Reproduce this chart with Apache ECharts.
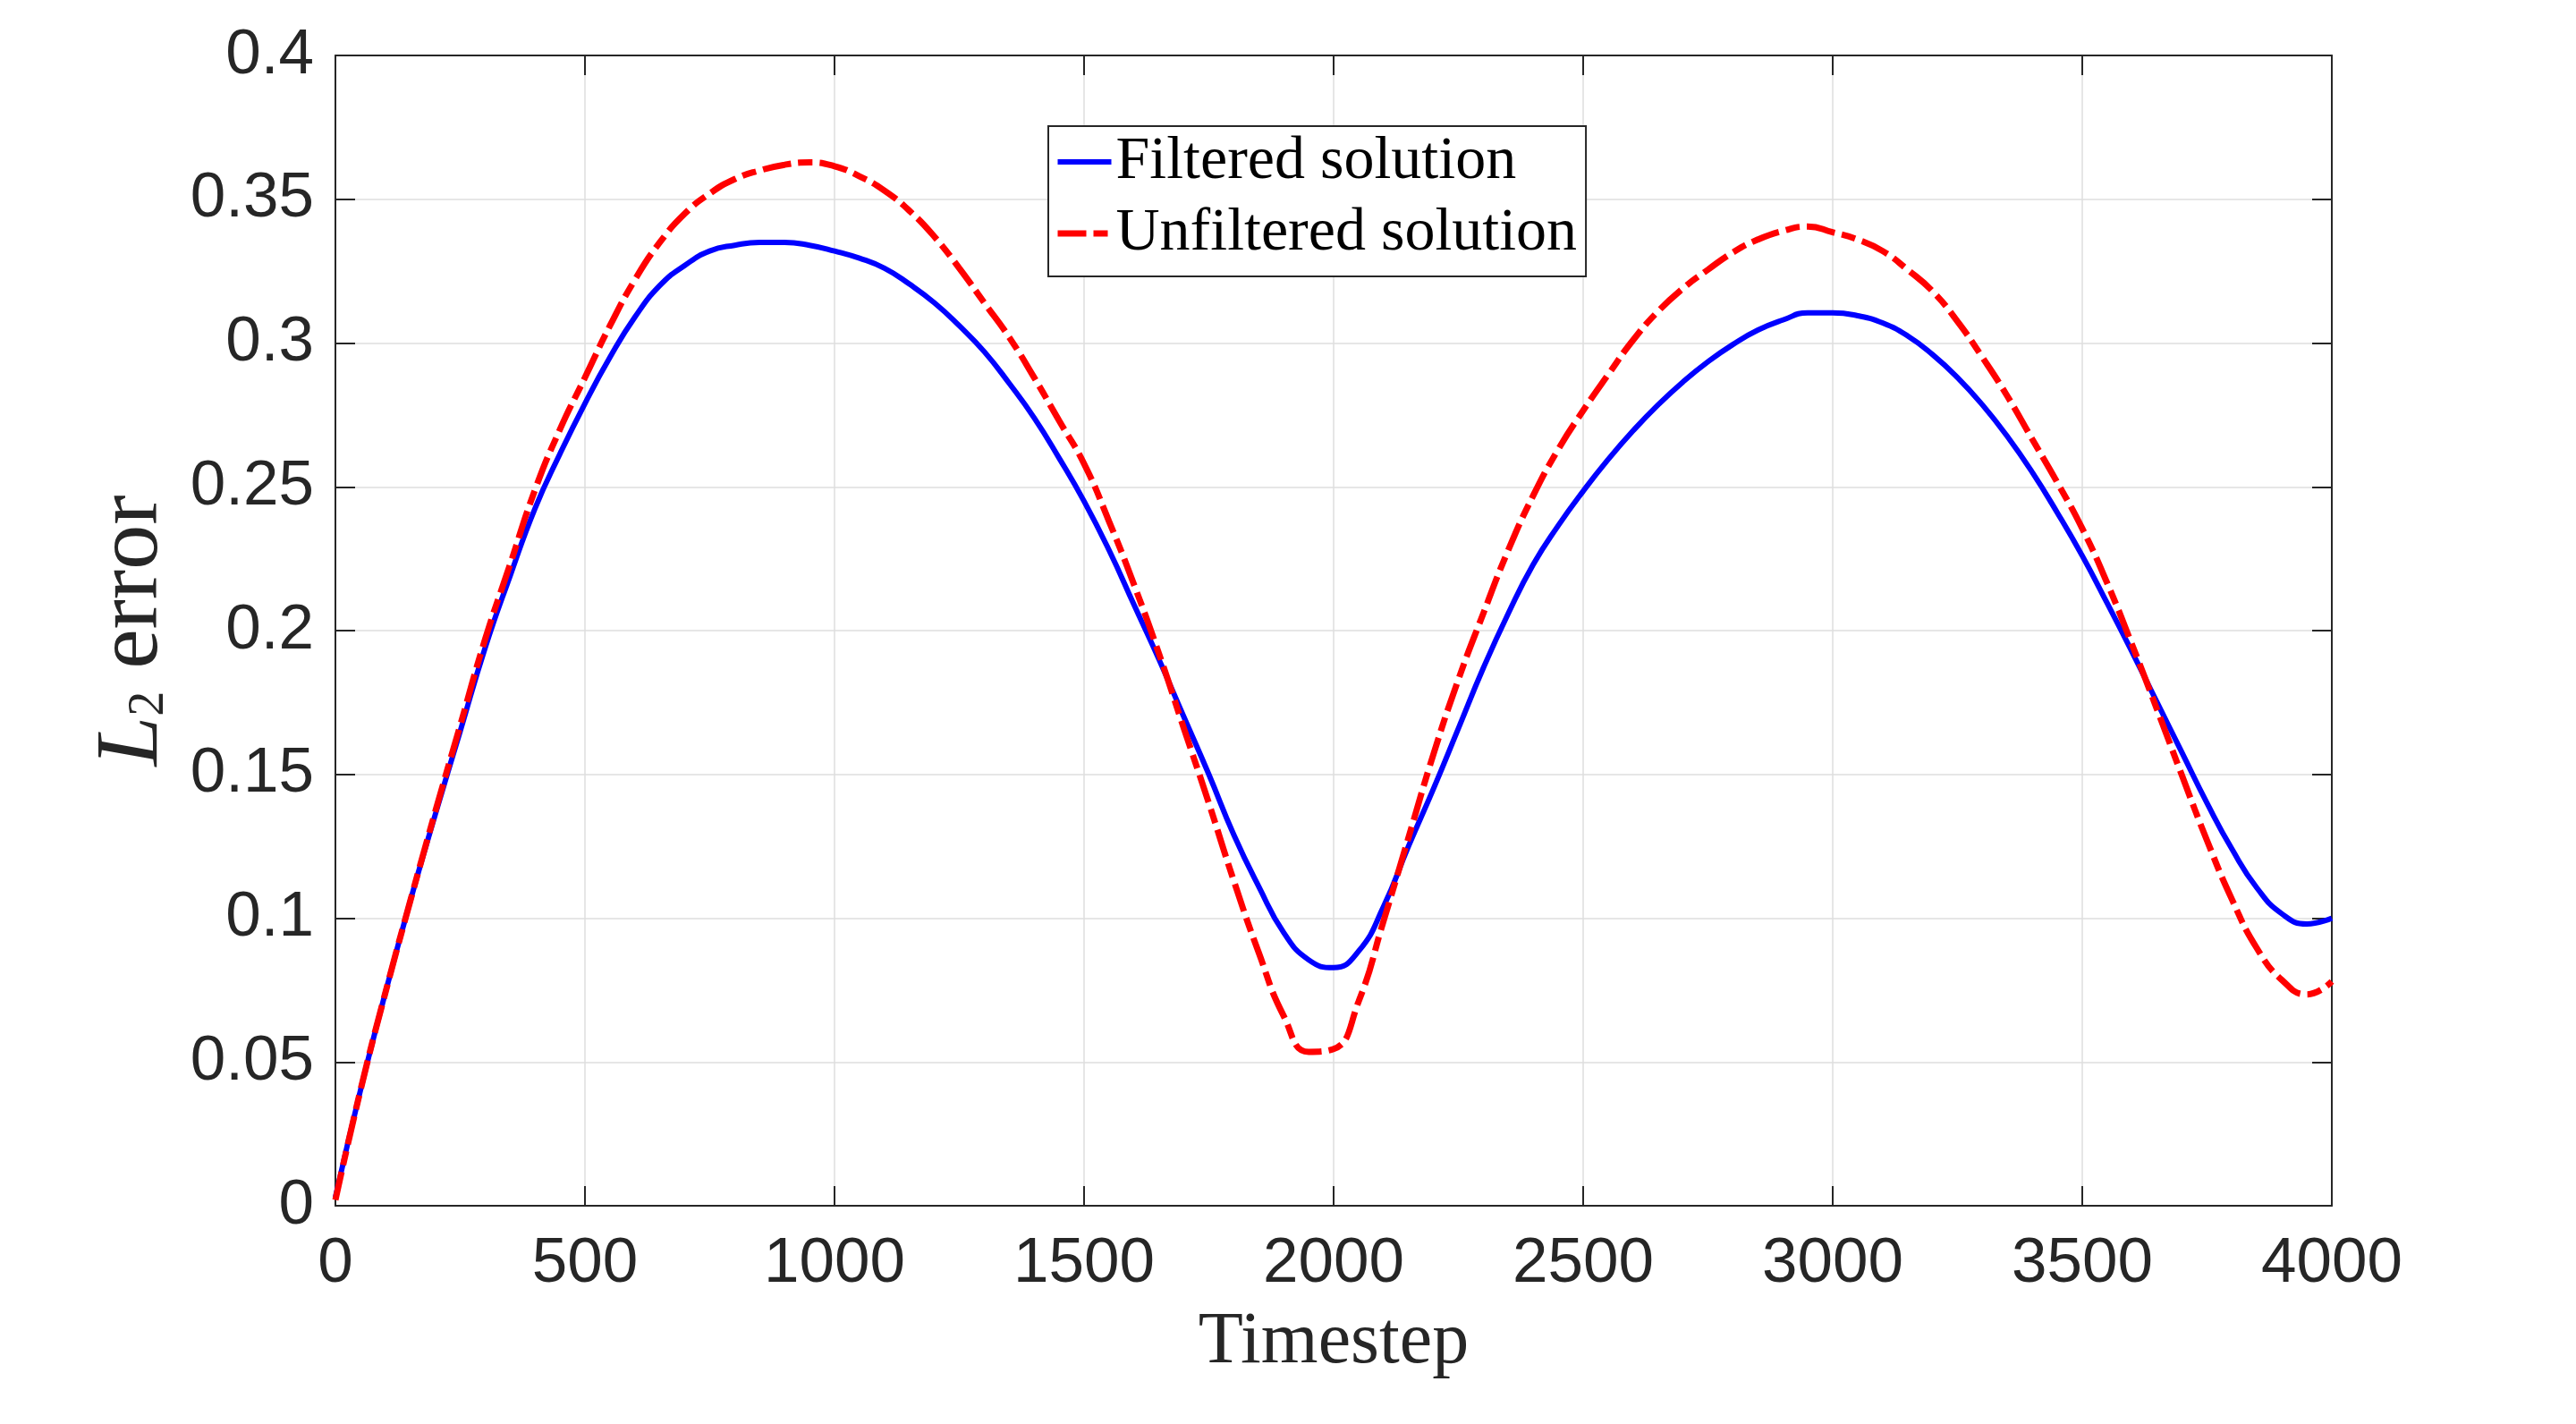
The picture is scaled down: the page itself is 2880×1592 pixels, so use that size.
<!DOCTYPE html>
<html>
<head>
<meta charset="utf-8">
<script src="https://cdn.jsdelivr.net/npm/echarts@6/dist/echarts.min.js"></script>
<style>
    html, body { margin: 0; padding: 0; background: #fff; }
    #chart { width: 2880px; height: 1592px; }
</style>
</head>
<body>
<div id="chart"></div>
<script>
// timestep, every 50
var steps = [];
for (var s = 0; s <= 4000; s += 50) steps.push(s);

var filtered = [
    0.003, 0.040, 0.074, 0.106, 0.136, 0.165, 0.194, 0.219, 0.2425, 0.2615,
    0.279, 0.295, 0.309, 0.320, 0.327, 0.332, 0.334, 0.335, 0.335, 0.334,
    0.332, 0.3295, 0.326, 0.3205, 0.314, 0.306, 0.297, 0.286, 0.274, 0.260,
    0.245, 0.228, 0.209, 0.190, 0.170, 0.150, 0.129, 0.111, 0.095, 0.0855,
    0.0828, 0.0885, 0.104, 0.125, 0.145, 0.166, 0.187, 0.206, 0.223, 0.2365,
    0.2485, 0.2595, 0.2695, 0.2785, 0.2865, 0.2935, 0.2995, 0.3045, 0.308, 0.3105,
    0.3105, 0.3095, 0.307, 0.3025, 0.296, 0.288, 0.2785, 0.2675, 0.255, 0.241,
    0.226, 0.2095, 0.1925, 0.175, 0.1575, 0.140, 0.124, 0.1105, 0.1015, 0.098,
    0.100];

var unfiltered = [
    0.002, 0.040, 0.074, 0.106, 0.137, 0.167, 0.197, 0.223, 0.249, 0.270,
    0.288, 0.306, 0.322, 0.335, 0.345, 0.352, 0.357, 0.360, 0.362, 0.3628,
    0.3615, 0.358, 0.353, 0.346, 0.337, 0.326, 0.314, 0.302, 0.288, 0.273,
    0.258, 0.238, 0.216, 0.192, 0.166, 0.140, 0.113, 0.088, 0.066, 0.0535,
    0.0545, 0.071, 0.099, 0.128, 0.157, 0.183, 0.206, 0.228, 0.247, 0.263,
    0.2765, 0.289, 0.301, 0.311, 0.319, 0.3255, 0.3315, 0.336, 0.339, 0.3405,
    0.3385, 0.336, 0.332, 0.3255, 0.318, 0.3075, 0.295, 0.2815, 0.2665, 0.2515,
    0.2355, 0.2165, 0.195, 0.1725, 0.1495, 0.127, 0.1065, 0.0895, 0.0785, 0.0735,
    0.078];

var seriesNames = ['Filtered solution', 'Unfiltered solution'];

function pairs(ys) {
    return steps.map(function (t, i) { return [t, ys[i]]; });
}

var dom = document.getElementById('chart');
var myChart = echarts.init(dom, null, { renderer: 'canvas', devicePixelRatio: 1 });

var axisColor = '#262626';
var gridColor = '#dedede';
var tickFont = { fontFamily: 'Liberation Sans', fontSize: 71, color: axisColor };
// box round the plot: onZero off so the top/right axes stay on their side
var boxLine = { show: true, onZero: false, lineStyle: { color: axisColor, width: 2 } };
var boxTick = { show: true, inside: true, length: 22, lineStyle: { color: axisColor, width: 2 } };

var option = {
    animation: false,
    backgroundColor: '#fff',
    grid: { left: 375, right: 273, top: 62, bottom: 244, containLabel: false, outerBoundsMode: 'none' },
    legend: {
        orient: 'vertical',
        left: 1172,
        top: 141,
        data: seriesNames,
        backgroundColor: '#fff',
        borderColor: axisColor,
        borderWidth: 2,
        borderRadius: 0,
        padding: [6, 10, 14, 7],
        itemWidth: 60,
        itemHeight: 14,
        itemGap: 12,
        itemStyle: { opacity: 0 },
        lineStyle: { width: 'inherit', type: 'inherit', opacity: 1 },
        textStyle: { fontFamily: 'Liberation Serif', fontSize: 68, color: '#000', lineHeight: 68 }
    },
    xAxis: [{
        type: 'value',
        min: 0,
        max: 4000,
        interval: 500,
        name: 'Timestep',
        nameLocation: 'middle',
        nameGap: 112,
        nameTextStyle: { fontFamily: 'Liberation Serif', fontSize: 82, color: axisColor },
        axisLine: boxLine,
        axisTick: boxTick,
        axisLabel: Object.assign({ margin: 30, formatter: function (v) { return String(v); } }, tickFont),
        splitLine: { show: true, lineStyle: { color: gridColor, width: 1.5 } }
    }, {
        type: 'value',
        position: 'top',
        min: 0,
        max: 4000,
        interval: 500,
        axisLine: boxLine,
        axisTick: boxTick,
        axisLabel: { show: false },
        splitLine: { show: false }
    }],
    yAxis: [{
        type: 'value',
        min: 0,
        max: 0.4,
        interval: 0.05,
        name: '{it|L}{sub|2}{n| error}',
        nameLocation: 'middle',
        nameRotate: 90,
        nameGap: 176,
        nameTextStyle: {
            fontFamily: 'Liberation Serif', fontSize: 100, color: axisColor,
            rich: {
                it: { fontFamily: 'Liberation Serif', fontStyle: 'italic', fontSize: 100, color: axisColor },
                sub: { fontFamily: 'Liberation Serif', fontSize: 56, color: axisColor, padding: [36, 0, 0, 0] },
                n: { fontFamily: 'Liberation Serif', fontSize: 100, color: axisColor }
            }
        },
        axisLine: boxLine,
        axisTick: boxTick,
        axisLabel: Object.assign({ margin: 24 }, tickFont),
        splitLine: { show: true, lineStyle: { color: gridColor, width: 1.5 } }
    }, {
        type: 'value',
        position: 'right',
        min: 0,
        max: 0.4,
        interval: 0.05,
        axisLine: boxLine,
        axisTick: boxTick,
        axisLabel: { show: false },
        splitLine: { show: false }
    }],
    series: [{
        name: seriesNames[0],
        type: 'line',
        data: pairs(filtered),
        smooth: 0.5,
        symbol: 'none',
        lineStyle: { color: '#0000ff', width: 6 },
        itemStyle: { color: '#0000ff' },
        z: 3
    }, {
        name: seriesNames[1],
        type: 'line',
        data: pairs(unfiltered),
        smooth: 0.5,
        symbol: 'none',
        lineStyle: { color: '#ff0000', width: 7, type: [32, 8, 16, 8] },
        itemStyle: { color: '#ff0000' },
        z: 4
    }]
};

if (option && typeof option === 'object') {
    myChart.setOption(option, true);
}
</script>
</body>
</html>
